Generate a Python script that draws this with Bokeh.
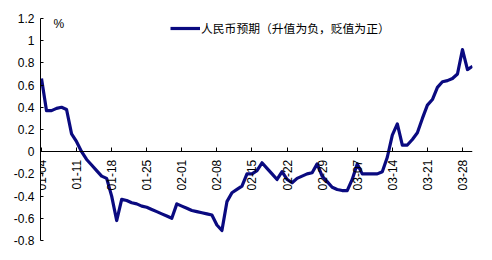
import pandas as pd
from bokeh.plotting import figure
from bokeh.models import (LinearAxis, FixedTicker, NumeralTickFormatter, Range1d,
                          Legend, LegendItem, Label)
from bokeh.embed import file_html
from bokeh.resources import INLINE
from math import pi

start_date = "2008-01-04"
dates = pd.date_range("2008-01-04", "2008-03-30", freq="D")
values = [
    0.66, 0.37, 0.37, 0.39, 0.40, 0.38, 0.16, 0.09, 0.00, -0.07,
    -0.12, -0.17, -0.22, -0.24, -0.40, -0.62, -0.43, -0.44, -0.46, -0.47,
    -0.49, -0.50, -0.52, -0.54, -0.56, -0.58, -0.60, -0.47, -0.49, -0.51,
    -0.53, -0.54, -0.55, -0.56, -0.57, -0.66, -0.71, -0.45, -0.37, -0.34,
    -0.31, -0.20, -0.20, -0.17, -0.10, -0.15, -0.20, -0.25, -0.18, -0.25,
    -0.28, -0.24, -0.22, -0.20, -0.19, -0.11, -0.22, -0.27, -0.32, -0.34,
    -0.35, -0.35, -0.25, -0.11, -0.20, -0.20, -0.20, -0.20, -0.18, -0.05,
    0.15, 0.25, 0.06, 0.06, 0.11, 0.17, 0.30, 0.42, 0.47, 0.58,
    0.63, 0.64, 0.66, 0.70, 0.92, 0.74, 0.77,
]
tick_labels = ["01-04", "01-11", "01-18", "01-25", "02-01", "02-08", "02-15",
               "02-22", "02-29", "03-07", "03-14", "03-21", "03-28"]
y_ticks = [-0.8, -0.6, -0.4, -0.2, 0, 0.2, 0.4, 0.6, 0.8, 1.0, 1.2]
series_name = "人民币预期（升值为负，贬值为正）"
unit_label = "%"

t0 = pd.Timestamp(start_date)
days = [(d - t0).days for d in dates]
tick_days = [(pd.Timestamp("2008-" + s) - t0).days for s in tick_labels]

p = figure(width=492, height=260, output_backend="svg", toolbar_location=None,
           x_axis_location=None, y_axis_location=None,
           x_range=Range1d(-0.2, 86), y_range=Range1d(-0.8, 1.2),
           min_border_left=40, min_border_right=20, min_border_top=18,
           min_border_bottom=20)
p.outline_line_color = None
p.grid.visible = False
p.background_fill_color = "white"
p.border_fill_color = "white"

font = "Liberation Sans"
yax = LinearAxis(ticker=FixedTicker(ticks=y_ticks),
                 formatter=NumeralTickFormatter(format="0.[0]"))
yax.major_tick_in = 3
yax.major_tick_out = 0
yax.minor_tick_line_color = None
yax.major_label_standoff = 6
yax.major_label_text_font = font
yax.major_label_text_font_size = "12px"
yax.major_label_text_color = "black"
yax.axis_line_color = "black"
p.add_layout(yax, "left")

xax = LinearAxis(ticker=FixedTicker(ticks=tick_days), fixed_location=0,
                 major_label_overrides={d: s for d, s in zip(tick_days, tick_labels)})
xax.major_tick_in = 4
xax.major_tick_out = 0
xax.minor_tick_line_color = None
xax.major_label_orientation = pi / 2
xax.major_label_standoff = 8
xax.major_label_text_font = font
xax.major_label_text_font_size = "12px"
xax.major_label_text_color = "black"
xax.axis_line_color = "black"
p.add_layout(xax, "below")

r = p.line(days, values, line_color="#0a0a80", line_width=3.2, line_join="round")

legend = Legend(items=[LegendItem(label=series_name, renderers=[r])],
                location=(130, 204), orientation="horizontal",
                border_line_color=None, background_fill_alpha=0,
                padding=0, margin=0, spacing=0, label_standoff=1,
                glyph_width=30, glyph_height=14,
                label_text_font="Noto Sans CJK SC", label_text_font_size="11.8px",
                label_text_color="black")
p.add_layout(legend, "center")

p.add_layout(Label(x=2.4, y=1.15, text=unit_label, text_font=font,
                   text_font_size="12px", text_baseline="middle", text_color="black"))

open("out.html", "w").write(file_html(p, INLINE))
